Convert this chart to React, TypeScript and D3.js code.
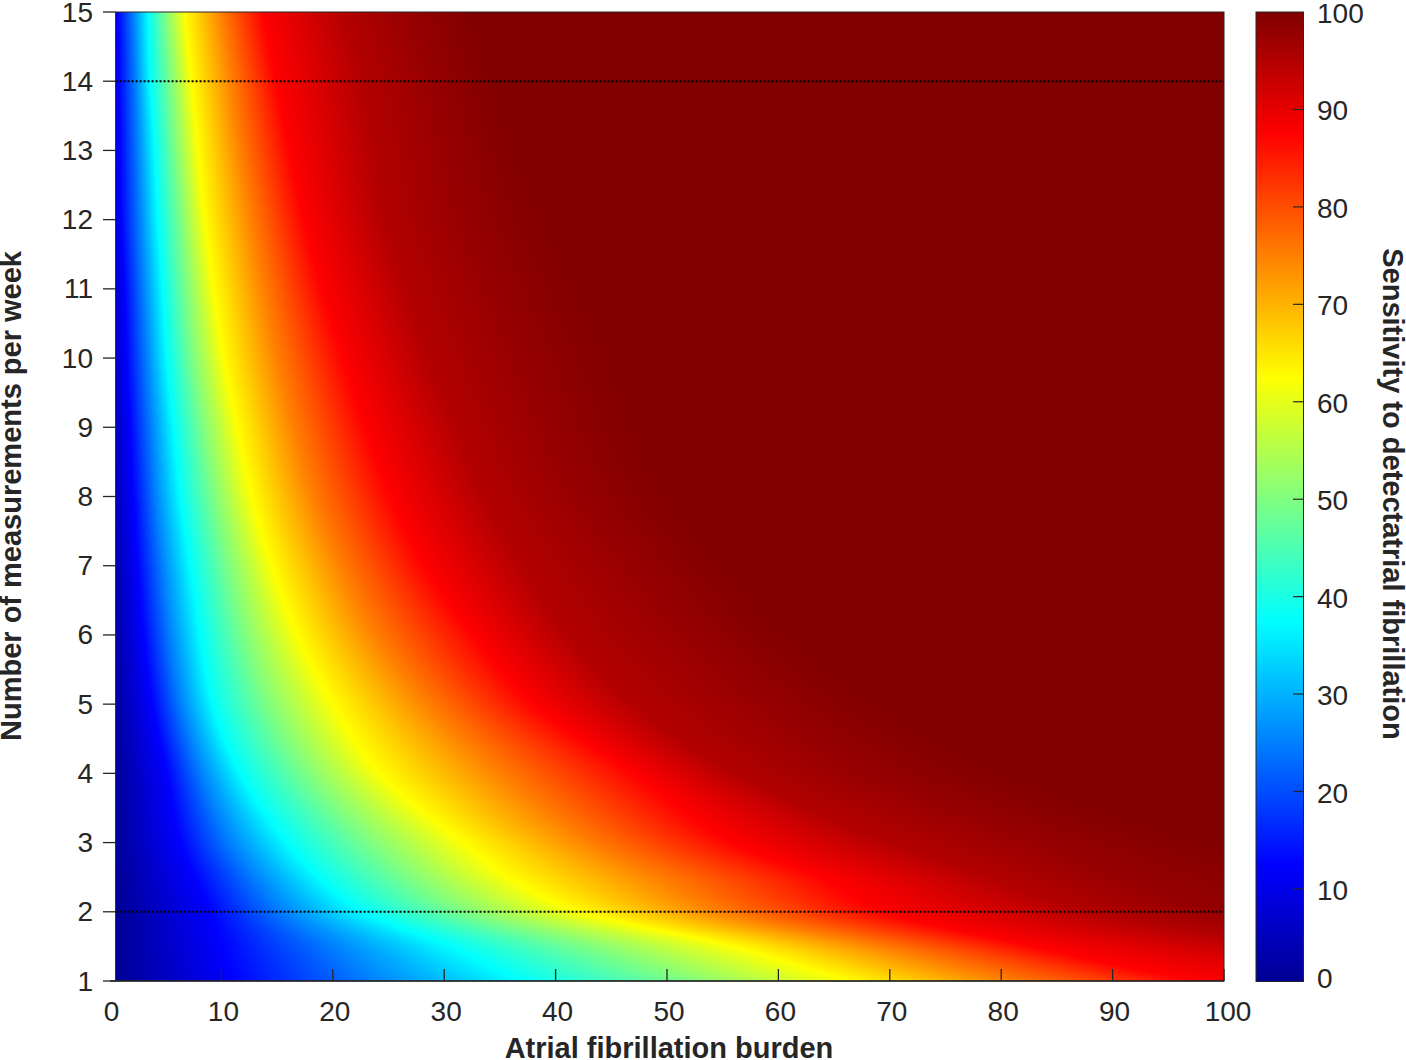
import React from "react";
import * as d3 from "d3";

// measurements per week at which the iso-sensitivity positions were read
const measurementRows = [1, 1.5, 2, 2.5, 3, 4, 5, 6, 7, 8, 9, 10, 11, 12, 13, 14, 15];
// sensitivity levels of the colour map
const sensitivityLevels = [0, 12.5, 25, 37.5, 50, 62.5, 75, 87.5, 95, 98, 100];
// burden (%) reaching each sensitivity level, per row of measurementRows
const burdenAt0 = [0, 0, 0, 0, 0, 0, -0.1, -0.2, -0.3, -0.5, -0.5, -0.6, -0.6, -0.7, -0.8, -0.8, -0.8];
const burdenAt12 = [11, 10, 9.0, 7.6, 6.3, 5.1, 3.8, 3.0, 2.5, 2.1, 1.8, 1.5, 1.3, 1.0, 0.9, 0.8, 0.7];
const burdenAt25 = [23.5, 20, 15.5, 13, 10.8, 8.2, 6.4, 5.4, 4.7, 4.1, 3.7, 3.3, 3.0, 2.7, 2.5, 2.3, 2.1];
const burdenAt37 = [37, 30.5, 22.7, 18.7, 15.9, 11.7, 9.2, 8.1, 7.2, 6.3, 5.7, 5.1, 4.7, 4.3, 4.0, 3.6, 3.4];
const burdenAt50 = [52, 43, 32, 27, 23.5, 17.8, 14.2, 12.1, 10.7, 9.4, 8.4, 7.5, 6.9, 6.4, 5.9, 5.5, 5.0];
const burdenAt62 = [66.5, 55.9, 42.2, 35.7, 31.7, 24.2, 20.0, 16.8, 14.5, 12.7, 11.4, 10.2, 9.3, 8.5, 7.9, 7.3, 6.7];
const burdenAt75 = [81, 69, 55, 49, 43, 35, 28.5, 23.8, 20.7, 18.2, 16.5, 15, 13.8, 12.7, 11.7, 10.9, 10];
const burdenAt87 = [97.8, 82.9, 69.4, 63.7, 55.9, 47, 38, 32.6, 28.2, 25.2, 22.9, 20.9, 19, 17.4, 16.1, 14.9, 13.7];
const burdenAt95 = [135, 106, 88, 79, 70, 56, 47, 41, 37, 33.5, 31, 28.5, 26.5, 24.5, 23.5, 22.5, 21];
const burdenAt98 = [165, 125, 100, 92, 85, 69, 60, 53, 48, 43, 40, 37.5, 35, 32.5, 31, 29.5, 27.5];
const burdenAt100 = [200, 160, 125, 112, 100, 82, 70, 62, 56, 51, 48, 46, 43, 40, 37, 35, 33];
const burdenColumns = [burdenAt0, burdenAt12, burdenAt25, burdenAt37, burdenAt50, burdenAt62, burdenAt75, burdenAt87, burdenAt95, burdenAt98, burdenAt100];

const xTicks = [0, 10, 20, 30, 40, 50, 60, 70, 80, 90, 100];
const yTicks = [1, 2, 3, 4, 5, 6, 7, 8, 9, 10, 11, 12, 13, 14, 15];
const colorTicks = [0, 10, 20, 30, 40, 50, 60, 70, 80, 90, 100];
const dottedRows = [2, 14];
const jetDomain = [0, 12.5, 37.5, 62.5, 87.5, 100];
const jetColors = ["#00008f", "#0000ff", "#00ffff", "#ffff00", "#ff0000", "#800000"];

const INK = "#262626";
const FONT = "'Liberation Sans', Arial, sans-serif";
const TICK_SIZE = 28;
const TITLE_SIZE = 29;

const x = d3.scaleLinear().domain([0, 100]).range([110, 1224]);
const y = d3.scaleLinear().domain([1, 15]).range([981, 12]);
const cb = d3.scaleLinear().domain([0, 100]).range([986.4, 12]);
const jet = d3.scaleLinear<string>().domain(jetDomain).range(jetColors).interpolate(d3.interpolateRgb).clamp(true);

// Smooth (Catmull-Rom in log n) reading of a column between the rows where it was read
const knots = measurementRows.map(Math.log);
function readColumn(col: number[], n: number) {
  const u = Math.log(n);
  const i = Math.max(0, Math.min(knots.length - 2, d3.bisectRight(knots, u) - 1));
  const slope = (k: number) => {
    const a = Math.max(0, k - 1);
    const b = Math.min(knots.length - 1, k + 1);
    return (col[b] - col[a]) / (knots[b] - knots[a]);
  };
  const h = knots[i + 1] - knots[i];
  const t = (u - knots[i]) / h;
  const t2 = t * t;
  const t3 = t2 * t;
  return (
    (2 * t3 - 3 * t2 + 1) * col[i] +
    (t3 - 2 * t2 + t) * h * slope(i) +
    (-2 * t3 + 3 * t2) * col[i + 1] +
    (t3 - t2) * h * slope(i + 1)
  );
}

const gradA = x(-2);
const gradB = x(210);
const pxRows = d3.range(y(15), y(1), 1);

export default function App() {
  const left = x(0.5);
  const right = x(100);
  return (
    <svg width={1406} height={1060} style={{ position: "absolute", left: 0, top: 0, display: "block", background: "#fff" }} fontFamily={FONT}>
      <defs>
        {pxRows.map((py, i) => {
          const n = y.invert(py + 0.5);
          return (
            <linearGradient key={i} id={`row${i}`} gradientUnits="userSpaceOnUse" x1={gradA} x2={gradB} y1={0} y2={0}>
              {sensitivityLevels.map((lv, j) => (
                <stop key={j} offset={(x(readColumn(burdenColumns[j], n)) - gradA) / (gradB - gradA)} stopColor={jet(lv)} />
              ))}
            </linearGradient>
          );
        })}
        <linearGradient id="bar" gradientUnits="userSpaceOnUse" x1={0} x2={0} y1={cb(0)} y2={cb(100)}>
          {jetDomain.map((v) => (
            <stop key={v} offset={v / 100} stopColor={jet(v)} />
          ))}
        </linearGradient>
      </defs>

      <g shapeRendering="crispEdges">
        {pxRows.map((py, i) => (
          <rect key={i} x={left} y={py} width={right - left} height={1.2} fill={`url(#row${i})`} />
        ))}
      </g>

      {dottedRows.map((r) => (
        <line key={r} x1={left} x2={right} y1={y(r)} y2={y(r)} stroke="#000" strokeWidth={2} strokeDasharray="2 2" />
      ))}

      <rect x={left} y={y(15)} width={right - left} height={y(1) - y(15)} fill="none" stroke={INK} strokeWidth={1} />
      <line x1={x(0)} x2={right} y1={y(1)} y2={y(1)} stroke={INK} strokeWidth={1.6} />

      {xTicks.slice(1).map((t) => (
        <line key={t} x1={x(t)} x2={x(t)} y1={y(1)} y2={y(1) - 12} stroke={INK} strokeWidth={1.3} />
      ))}
      {xTicks.map((t) => (
        <text key={t} x={x(t) + (t === 0 ? 1.5 : t === 100 ? 4 : 2)} y={1021} textAnchor="middle" fontSize={TICK_SIZE} fill={INK}>
          {t}
        </text>
      ))}

      {yTicks.map((t) => (
        <g key={t}>
          <line x1={103} x2={left} y1={y(t)} y2={y(t)} stroke={INK} strokeWidth={1.3} />
          <text x={93} y={y(t) + 9.5} textAnchor="end" fontSize={TICK_SIZE} fill={INK}>
            {t}
          </text>
        </g>
      ))}

      <rect x={1256} y={12} width={47.5} height={969.5} fill="url(#bar)" stroke={INK} strokeWidth={1} />
      {colorTicks.map((t) => (
        <g key={t}>
          {t > 0 && t < 100 && <line x1={1293} x2={1303.5} y1={cb(t)} y2={cb(t)} stroke={INK} strokeWidth={1.2} />}
          <text x={1317} y={t === 0 ? 987.5 : cb(t) + 11} fontSize={TICK_SIZE} fill={INK}>
            {t}
          </text>
        </g>
      ))}

      <text x={669} y={1058} textAnchor="middle" fontSize={TITLE_SIZE} fontWeight="bold" fill={INK}>
        Atrial fibrillation burden
      </text>
      <text transform="translate(21,496) rotate(-90)" textAnchor="middle" fontSize={TITLE_SIZE} fontWeight="bold" fill={INK}>
        Number of measurements per week
      </text>
      <text transform="translate(1383,494) rotate(90)" textAnchor="middle" fontSize={TITLE_SIZE} fontWeight="bold" fill={INK}>
        Sensitivity to detectatrial fibrillation
      </text>
    </svg>
  );
}
